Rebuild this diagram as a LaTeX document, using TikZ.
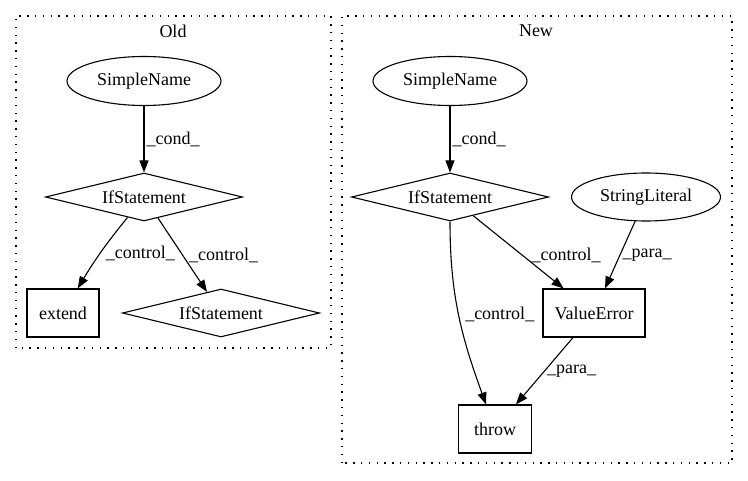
\documentclass[tikz,border=0pt]{standalone}
\usepackage{fontspec}
\setmainfont{Liberation Serif}
\usetikzlibrary{arrows.meta}
\usetikzlibrary{shapes.geometric}

\tikzset{
    ell/.style={draw, ellipse, inner sep=0pt, minimum width=154pt, minimum height=49pt},
    dia/.style={draw, diamond, aspect=4, inner sep=0pt, minimum width=197pt, minimum height=48pt},
    box/.style={draw, rectangle, inner sep=0pt, minimum height=48pt},
    cluster/.style={line width=1.2pt, dash pattern=on 1.4pt off 6.4pt},
    lbl/.style={anchor=west, inner sep=2pt}
}

\begin{document}
\begin{tikzpicture}[>={Triangle[length=12pt,width=9pt]}, x=1pt, y=1pt,
    font=\fontsize{18pt}{21pt}\selectfont, line width=1.1pt]

    \useasboundingbox (0,0) rectangle (748,480);

    % clusters
    \draw[cluster] (16,132) rectangle (331,464);
    \node (oldtitle) at (173,449) {Old};
    \draw[cluster] (342,17) rectangle (732,464);
    \node (newtitle) at (536,449) {New};

    % old graph
    \node[ell] (oldname) at (144,399) {SimpleName};
    \node[dia] (oldif) at (144,283) {IfStatement};
    \node[box, minimum width=72pt] (extend) at (63,167) {extend};
    \node[dia] (oldifb) at (221,167) {IfStatement};

    \draw[->] (oldname) -- node[lbl, pos=0.5]{\_cond\_} (oldif);
    \draw[->] (oldif) to[bend right=4] node[lbl, pos=0.52, xshift=3pt]{\_control\_} (extend);
    \draw[->] (oldif) -- node[lbl, pos=0.5, xshift=4pt]{\_control\_} (oldifb);

    % new graph
    \node[ell] (newname) at (450,399) {SimpleName};
    \node[dia] (newif) at (450,283) {IfStatement};
    \node[ell, minimum width=149pt, minimum height=48pt] (strlit) at (646,283) {StringLiteral};
    \node[box, minimum width=102pt] (valerr) at (594,167) {ValueError};
    \node[box, minimum width=73pt] (throw) at (495,51) {throw};

    \draw[->] (newname) -- node[lbl, pos=0.5]{\_cond\_} (newif);
    \draw[->] (newif) -- node[lbl, pos=0.55, xshift=6pt]{\_control\_} (valerr);
    \draw[->] (strlit) -- node[lbl, pos=0.5]{\_para\_} (valerr);
    \draw[->] (newif.south) to[out=-90, in=110] node[lbl, pos=0.5, xshift=4pt]{\_control\_} (throw);
    \draw[->] (valerr) -- node[lbl, pos=0.5]{\_para\_} (throw);

\end{tikzpicture}
\end{document}
